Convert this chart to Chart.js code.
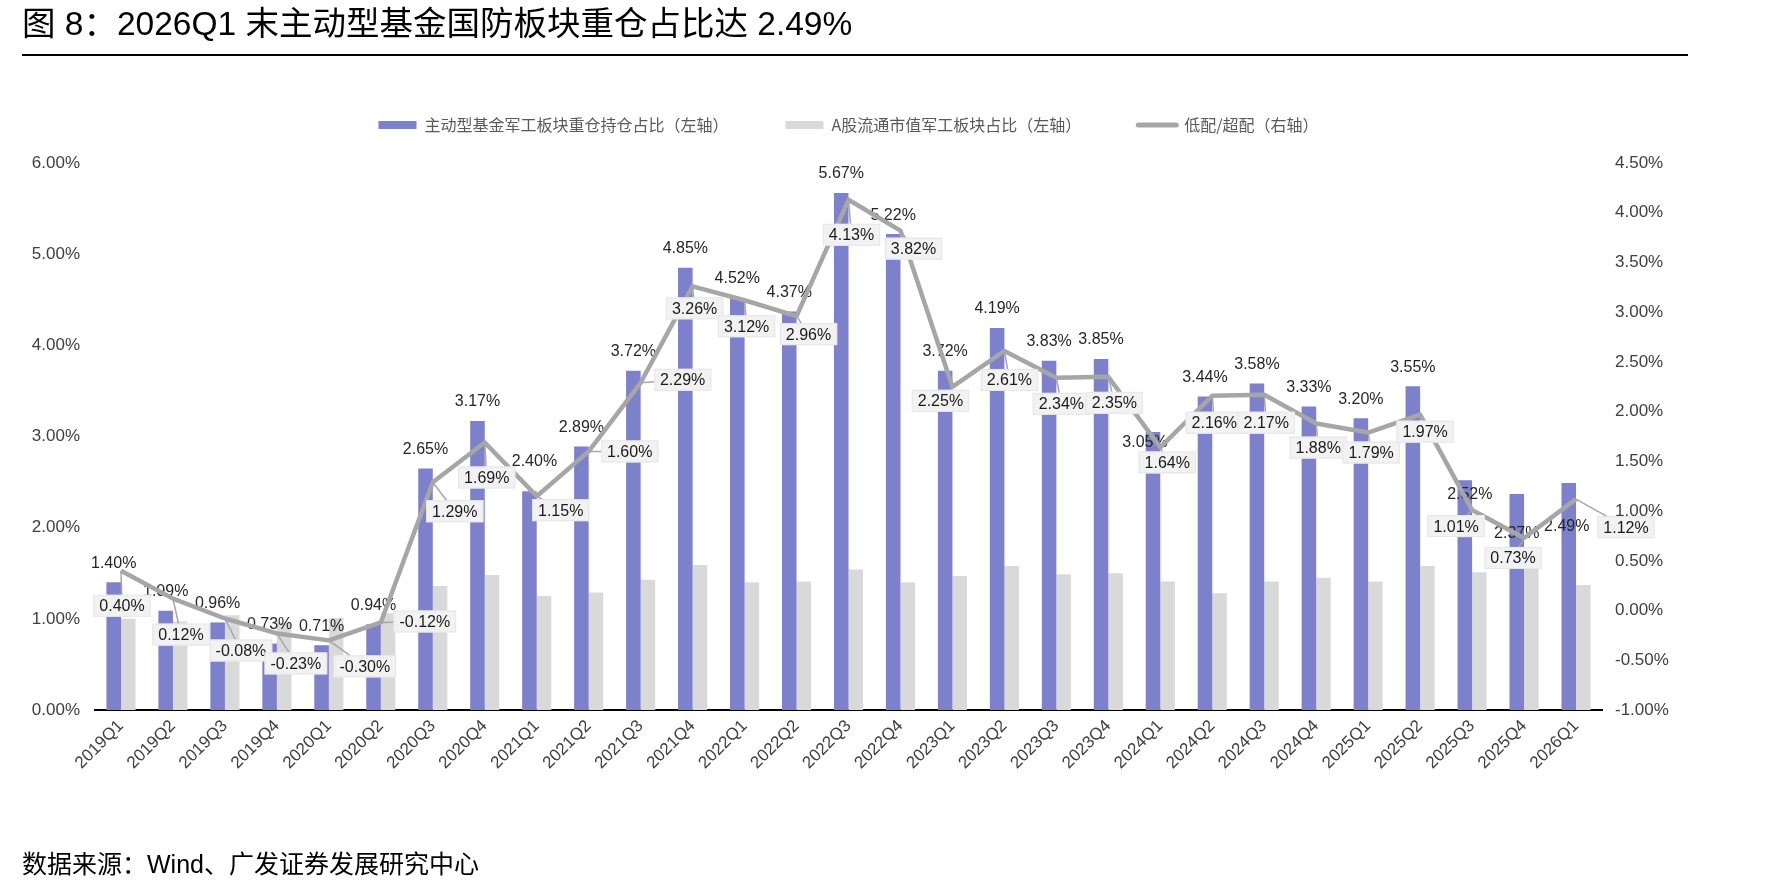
<!DOCTYPE html>
<html>
<head>
<meta charset="utf-8">
<script src="https://cdn.jsdelivr.net/npm/chart.js@4.4.1/dist/chart.umd.min.js"></script>
<style>
  html, body { margin: 0; padding: 0; background: #fff; }
  body { width: 1790px; height: 895px; position: relative; overflow: hidden;
         font-family: "Liberation Sans", "Noto Sans CJK SC", sans-serif; }
  #wrap { position: absolute; left: 0; top: 0; width: 1790px; height: 895px; }
  #title { position: absolute; left: 22px; top: 4px; font-size: 33.5px; line-height: 40px; color: #000; white-space: nowrap; }
  #rule { position: absolute; left: 22px; top: 54px; width: 1666px; height: 2px; background: #000; }
  #source { position: absolute; left: 22px; top: 848px; font-size: 25px; line-height: 32px; color: #000; white-space: nowrap; }
</style>
</head>
<body>
<div id="wrap"><canvas id="chart" width="1790" height="895"></canvas></div>
<div id="title">图 8：2026Q1 末主动型基金国防板块重仓占比达 2.49%</div>
<div id="rule"></div>
<div id="source">数据来源：Wind、广发证券发展研究中心</div>
<script>
// quarters on the x axis
const quarters = ['2019Q1','2019Q2','2019Q3','2019Q4','2020Q1','2020Q2','2020Q3','2020Q4',
  '2021Q1','2021Q2','2021Q3','2021Q4','2022Q1','2022Q2','2022Q3','2022Q4',
  '2023Q1','2023Q2','2023Q3','2023Q4','2024Q1','2024Q2','2024Q3','2024Q4',
  '2025Q1','2025Q2','2025Q3','2025Q4','2026Q1'];

// 主动型基金军工板块重仓持仓占比 (%), left axis
const fundWeight = [1.40, 1.09, 0.96, 0.73, 0.71, 0.94, 2.65, 3.17, 2.40, 2.89, 3.72, 4.85, 4.52, 4.37,
  5.67, 5.22, 3.72, 4.19, 3.83, 3.85, 3.05, 3.44, 3.58, 3.33, 3.20, 3.55, 2.52, 2.37, 2.49];

// A股流通市值军工板块占比 (%), left axis
const marketWeight = [1.00, 0.97, 1.04, 0.96, 1.01, 1.06, 1.36, 1.48, 1.25, 1.29, 1.43, 1.59, 1.40, 1.41,
  1.54, 1.40, 1.47, 1.58, 1.49, 1.50, 1.41, 1.28, 1.41, 1.45, 1.41, 1.58, 1.51, 1.64, 1.37];

// 低配/超配 (%), right axis
const overUnder = [0.40, 0.12, -0.08, -0.23, -0.30, -0.12, 1.29, 1.69, 1.15, 1.60, 2.29, 3.26, 3.12, 2.96,
  4.13, 3.82, 2.25, 2.61, 2.34, 2.35, 1.64, 2.16, 2.17, 1.88, 1.79, 1.97, 1.01, 0.73, 1.12];

const leftAxis = { min: 0, max: 6, step: 1 };
const rightAxis = { min: -1, max: 4.5, step: 0.5 };

// label placement (px offsets, box centre relative to the line point)
const lineLabelOffset = [[1,35],[8,36],[16,32],[19,30],[36,26],[44,-1],[22,29],[2,35],[24,14],[41,0],
  [42,-3],[2,22],[2,26],[12,18],[3,35],[13,18],[-12,14],[5,29],[5,26],[6,26],[7,15],[2,27],[2,28],
  [2,24],[3,20],[5,17],[-16,16],[-11,20],[50,28]];
// a few bar labels were moved off their default spot
const barLabelShift = { 8: [5, -11], 20: [-8, 30], 26: [5, 33], 27: [0, 59], 28: [-2, 63] };

const pct = v => v.toFixed(2) + '%';
const latin = '"Liberation Sans", Arial, sans-serif';

const legendSpace = {
  id: 'legendSpace',
  beforeLayout(chart) {
    const lg = chart.legend;
    if (lg && !lg._patched) {
      const fit = lg.fit;
      lg.fit = function () { fit.call(this); this.height = 103; };
      lg._patched = true;
    }
  }
};

const valueLabels = {
  id: 'valueLabels',
  afterDatasetDraw(chart, args) {
    if (args.index !== 0) return;
    const ctx = chart.ctx;
    ctx.save();
    ctx.font = '16px ' + latin;
    ctx.fillStyle = '#262626';
    ctx.textAlign = 'center';
    ctx.textBaseline = 'middle';
    args.meta.data.forEach((bar, i) => {
      const s = barLabelShift[i] || [0, 0];
      ctx.fillText(pct(fundWeight[i]), bar.x + s[0], bar.y - 19 + s[1]);
    });
    ctx.restore();
  },
  afterDatasetsDraw(chart) {
    const ctx = chart.ctx;
    const meta = chart.getDatasetMeta(2);
    ctx.save();
    ctx.font = '16px ' + latin;
    ctx.textAlign = 'center';
    ctx.textBaseline = 'middle';
    meta.data.forEach((pt, i) => {
      const [dx, dy] = lineLabelOffset[i];
      const cx = pt.x + dx, cy = pt.y + dy;
      const txt = pct(overUnder[i]);
      const w = ctx.measureText(txt).width + 12, h = 22;
      ctx.strokeStyle = '#a6a6a6';
      ctx.lineWidth = 1.5;
      ctx.beginPath();
      ctx.moveTo(pt.x, pt.y);
      ctx.lineTo(cx, cy);
      ctx.stroke();
      ctx.fillStyle = '#f2f2f2';
      ctx.fillRect(cx - w / 2, cy - h / 2, w, h);
      ctx.strokeStyle = '#e6e6e6';
      ctx.lineWidth = 1;
      ctx.strokeRect(cx - w / 2 + 0.5, cy - h / 2 + 0.5, w - 1, h - 1);
      ctx.fillStyle = '#1a1a1a';
      ctx.fillText(txt, cx, cy + 1);
    });
    ctx.restore();
  }
};

const tickFont = { family: latin, size: 17 };

new Chart(document.getElementById('chart').getContext('2d'), {
  type: 'bar',
  data: {
    labels: quarters,
    datasets: [
      { label: '主动型基金军工板块重仓持仓占比（左轴）', data: fundWeight, backgroundColor: '#7d80ca',
        yAxisID: 'y', order: 1, categoryPercentage: 0.56, barPercentage: 1 },
      { label: 'A股流通市值军工板块占比（左轴）', data: marketWeight, backgroundColor: '#d9d9d9',
        yAxisID: 'y', order: 1, categoryPercentage: 0.56, barPercentage: 1 },
      { type: 'line', label: '低配/超配（右轴）', data: overUnder, borderColor: '#a6a6a6',
        backgroundColor: '#a6a6a6', borderWidth: 4.5, pointRadius: 0, tension: 0,
        borderJoinStyle: 'round', yAxisID: 'y1', order: 0 }
    ]
  },
  options: {
    responsive: false,
    animation: false,
    devicePixelRatio: 1,
    layout: { padding: { left: 0, right: 93, top: 60, bottom: 105 } },
    plugins: {
      tooltip: { enabled: false },
      legend: {
        position: 'top',
        labels: {
          usePointStyle: true, pointStyleWidth: 38, boxHeight: 8, padding: 57,
          font: { family: '"Noto Sans CJK SC", sans-serif', size: 16 },
          color: '#595959',
          generateLabels: chart => chart.data.datasets.map((ds, i) => ({
            text: ds.label, datasetIndex: i, hidden: false,
            fillStyle: ds.backgroundColor, strokeStyle: ds.borderColor || ds.backgroundColor,
            lineWidth: ds.type === 'line' ? 5 : 0, lineCap: 'round',
            pointStyle: ds.type === 'line' ? 'line' : 'rect', fontColor: '#595959'
          }))
        }
      }
    },
    scales: {
      x: {
        grid: { display: false, drawTicks: false },
        border: { display: true, color: '#000', width: 2 },
        ticks: { minRotation: 45, maxRotation: 45, autoSkip: false, font: tickFont, color: '#404040', padding: 6 },
        afterFit: s => { s.height = 80; }
      },
      y: {
        position: 'left', min: leftAxis.min, max: leftAxis.max,
        grid: { display: false, drawTicks: false },
        border: { display: false },
        ticks: { stepSize: leftAxis.step, callback: v => pct(v), font: tickFont, color: '#404040', padding: 15 },
        afterFit: s => { s.width = 95; }
      },
      y1: {
        position: 'right', min: rightAxis.min, max: rightAxis.max,
        grid: { display: false, drawTicks: false },
        border: { display: false },
        ticks: { stepSize: rightAxis.step, callback: v => pct(v), font: tickFont, color: '#404040', padding: 13 },
        afterFit: s => { s.width = 95; }
      }
    }
  },
  plugins: [legendSpace, valueLabels]
});
</script>
</body>
</html>
